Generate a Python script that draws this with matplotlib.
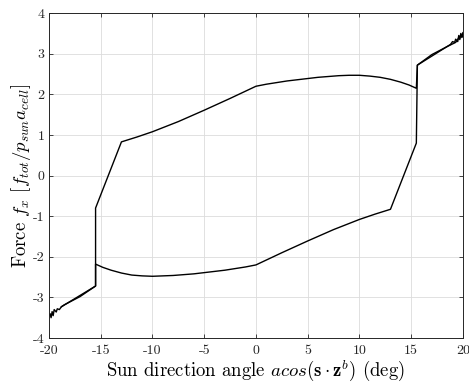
import numpy as np
import matplotlib.pyplot as plt

# upper (rising) branch of the hysteresis loop
up_x = [-20.0, -19.9, -19.8, -19.7, -19.6, -19.5, -19.3, -19.2, -19.0, -18.8,
        -15.5, -15.5, -13.0, -11.5, -10.0, -7.5, -5.0, -2.5, 0.0,
        1.0, 2.0, 3.0, 4.0, 5.0, 6.0, 7.0, 8.0, 9.0, 10.0, 11.0, 12.0, 13.0,
        14.0, 14.8, 15.5, 15.6, 17.0, 18.5, 19.3, 19.5, 19.6, 19.7, 19.8, 19.9, 20.0]
up_y = [-3.45, -3.40, -3.50, -3.35, -3.45, -3.30, -3.36, -3.28, -3.30, -3.23,
        -2.72, -0.80, 0.83, 0.95, 1.08, 1.33, 1.61, 1.90, 2.20,
        2.25, 2.29, 2.33, 2.36, 2.39, 2.42, 2.44, 2.46, 2.47, 2.47, 2.45, 2.42, 2.37,
        2.30, 2.23, 2.15, 2.72, 2.98, 3.18, 3.28, 3.35, 3.40, 3.38, 3.48, 3.42, 3.52]

# lower (falling) branch
lo_x = [20.0, 19.9, 19.8, 19.7, 19.6, 19.5, 19.3, 19.2, 19.0, 18.8,
        15.6, 15.5, 13.0, 11.5, 10.0, 7.5, 5.0, 2.5, 0.0,
        -1.0, -2.0, -3.0, -4.0, -5.0, -6.0, -7.0, -8.0, -9.0, -10.0, -11.0, -12.0, -13.0,
        -14.0, -14.8, -15.5, -15.5, -17.0, -18.5, -18.8]
lo_y = [3.45, 3.40, 3.50, 3.35, 3.45, 3.30, 3.36, 3.28, 3.30, 3.23,
        2.72, 0.80, -0.83, -0.95, -1.08, -1.33, -1.61, -1.90, -2.20,
        -2.25, -2.29, -2.33, -2.36, -2.39, -2.42, -2.44, -2.46, -2.47, -2.48, -2.47, -2.45, -2.40,
        -2.33, -2.26, -2.18, -2.72, -2.98, -3.18, -3.23]

xticks = [-20, -15, -10, -5, 0, 5, 10, 15, 20]
yticks = [-4, -3, -2, -1, 0, 1, 2, 3, 4]

plt.rcParams['mathtext.fontset'] = 'cm'
plt.rcParams['font.family'] = 'cmr10'

fig = plt.figure(figsize=(4.69, 3.87), dpi=100)
ax = fig.add_axes([0.1045, 0.1266, 0.8825, 0.8394])

ax.plot(up_x, up_y, color='black', lw=1.0)
ax.plot(lo_x, lo_y, color='black', lw=1.0)

ax.set_xlim(-20, 20)
ax.set_ylim(-4, 4)
ax.set_xticks(xticks)
ax.set_yticks(yticks)
ax.set_xticklabels([str(t) for t in xticks], fontsize=10)
ax.set_yticklabels([str(t) for t in yticks], fontsize=10)
ax.grid(True, color='#dcdcdc', lw=0.6)
ax.set_axisbelow(True)
ax.tick_params(direction='in', top=True, right=True, length=3, width=0.6,
               colors='#262626')
ax.tick_params(axis='x', pad=5)
ax.tick_params(axis='y', pad=3)
for s in ax.spines.values():
    s.set_linewidth(0.7)
    s.set_color('#262626')

ax.set_xlabel(r'Sun direction angle $acos(\mathbf{s}\cdot\mathbf{z}^b)$ (deg)',
              fontsize=13.5, labelpad=1)
ax.set_ylabel(r'Force $f_x$ $[f_{tot}/p_{sun}a_{cell}]$', fontsize=13.5, labelpad=0)

fig.savefig('out.png', dpi=100)
